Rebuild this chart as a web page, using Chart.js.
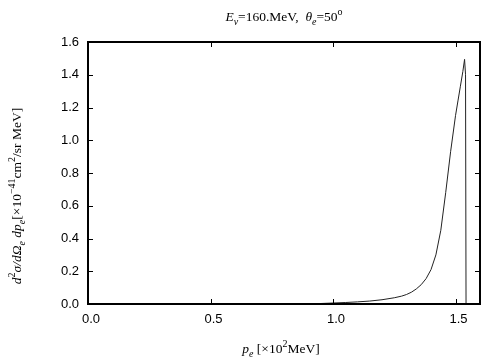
<!DOCTYPE html>
<html><head><meta charset="utf-8">
<script src="https://cdn.jsdelivr.net/npm/chart.js@4"></script>
<style>html,body{margin:0;padding:0;background:#fff}#wrap{width:504px;height:360px}</style>
</head><body><div id="wrap"><canvas id="c" width="504" height="360"></canvas></div>
<script>
// electron momentum p_e [x10^2 MeV]
const momentum = [0, 0.2, 0.4, 0.6, 0.8, 0.9, 0.95, 1.0, 1.05, 1.1, 1.15, 1.2, 1.25, 1.28, 1.30, 1.32, 1.34, 1.36, 1.38, 1.40, 1.42, 1.44, 1.46, 1.48, 1.50, 1.51, 1.52, 1.53, 1.537, 1.541, 1.543, 1.6];
// d2sigma / dOmega dp  [x10^-41 cm^2/sr MeV]
const crossSection = [0, 0, 0, 0, 0, 0.001, 0.003, 0.006, 0.009, 0.013, 0.018, 0.026, 0.038, 0.048, 0.058, 0.072, 0.092, 0.118, 0.155, 0.21, 0.30, 0.45, 0.68, 0.93, 1.15, 1.24, 1.33, 1.42, 1.494, 1.40, 0, 0];
const xTicks = [0, 0.5, 1.0, 1.5];
const yTicks = [0, 0.2, 0.4, 0.6, 0.8, 1.0, 1.2, 1.4, 1.6];

const titleParts = [["E","i"],["ν","i","sub"],["=160.MeV,  ","n"],["θ","i"],["e","i","sub"],["=50","n"],["o","n","sup"]];
const yLabelParts = [["d","i"],["2","n","sup"],["σ/dΩ","i"],["e","i","sub"],[" dp","i"],["e","i","sub"],["[×10","n"],["−41","n","sup"],["cm","n"],["2","n","sup"],["/sr MeV]","n"]];
const xLabelParts = [["p","i"],["e","i","sub"],[" [×10","n"],["2","n","sup"],["MeV]","n"]];

const SERIF = '"Liberation Serif", "Times New Roman", serif';
function partFont(p, size){
  const s = p[2] ? Math.round(size*0.72) : size;
  return (p[1]==="i" ? "italic " : "") + s + "px " + SERIF;
}
function richWidth(ctx, parts, size){
  let w = 0;
  for (const p of parts){ ctx.font = partFont(p,size); w += ctx.measureText(p[0]).width; }
  return w;
}
function drawRich(ctx, parts, size, cx, baseY){
  const w = richWidth(ctx, parts, size);
  let x = cx - w/2;
  ctx.textAlign = "left"; ctx.textBaseline = "alphabetic"; ctx.fillStyle = "#000";
  for (const p of parts){
    ctx.font = partFont(p,size);
    let dy = 0;
    if (p[2]==="sub") dy = size*0.28;
    if (p[2]==="sup") dy = -size*0.42;
    ctx.fillText(p[0], x, baseY + dy);
    x += ctx.measureText(p[0]).width;
  }
}

const framePlugin = {
  id: "frame",
  afterDraw(chart){
    const ctx = chart.ctx, a = chart.chartArea;
    const xs = chart.scales.x, ys = chart.scales.y;
    ctx.save();
    ctx.strokeStyle = "#000";
    ctx.lineWidth = 1;
    const L = 5;
    ctx.beginPath();
    for (const v of xTicks){
      const px = Math.round(xs.getPixelForValue(v)) + 0.5;
      ctx.moveTo(px, a.bottom); ctx.lineTo(px, a.bottom - L);
      ctx.moveTo(px, a.top); ctx.lineTo(px, a.top + L);
    }
    for (const v of yTicks){
      const py = Math.round(ys.getPixelForValue(v)) + 0.5;
      ctx.moveTo(a.left, py); ctx.lineTo(a.left + L, py);
      ctx.moveTo(a.right, py); ctx.lineTo(a.right - L, py);
    }
    ctx.stroke();
    ctx.lineWidth = 2;
    ctx.strokeRect(a.left, a.top, a.right - a.left, a.bottom - a.top);
    // titles
    const cx = (a.left + a.right)/2;
    drawRich(ctx, titleParts, 13.5, cx, 21);
    drawRich(ctx, xLabelParts, 13.5, cx - 3, 353);
    ctx.translate(21, 196);
    ctx.rotate(-Math.PI/2);
    drawRich(ctx, yLabelParts, 13.5, 0, 0);
    ctx.restore();
  }
};

const tickFont = {family: '"Liberation Sans", Arial, sans-serif', size: 13};
new Chart(document.getElementById("c"), {
  type: "line",
  data: { datasets: [{
    data: momentum.map((x, i) => ({x: x, y: crossSection[i]})),
    borderColor: "#222", borderWidth: 1, pointRadius: 0, tension: 0, fill: false
  }]},
  options: {
    responsive: false, animation: false,
    layout: {padding: {top: 42, right: 24, left: 0, bottom: 0}},
    plugins: {legend: {display: false}, tooltip: {enabled: false}, title: {display: false}},
    scales: {
      x: {
        type: "linear", min: 0, max: 1.6,
        afterFit(s){ s.height = 56; },
        afterBuildTicks(s){ s.ticks = xTicks.map(v => ({value: v})); },
        ticks: {font: tickFont, color: "#000", padding: 8, labelOffset: 3, maxRotation: 0, callback: v => Number(v).toFixed(1)},
        grid: {display: false, drawTicks: false},
        border: {display: false}
      },
      y: {
        type: "linear", min: 0, max: 1.6,
        afterFit(s){ s.width = 88; },
        afterBuildTicks(s){ s.ticks = yTicks.map(v => ({value: v})); },
        ticks: {font: tickFont, color: "#000", padding: 9, callback: v => Number(v).toFixed(1)},
        grid: {display: false, drawTicks: false},
        border: {display: false}
      }
    }
  },
  plugins: [framePlugin]
});
</script>
</body></html>
